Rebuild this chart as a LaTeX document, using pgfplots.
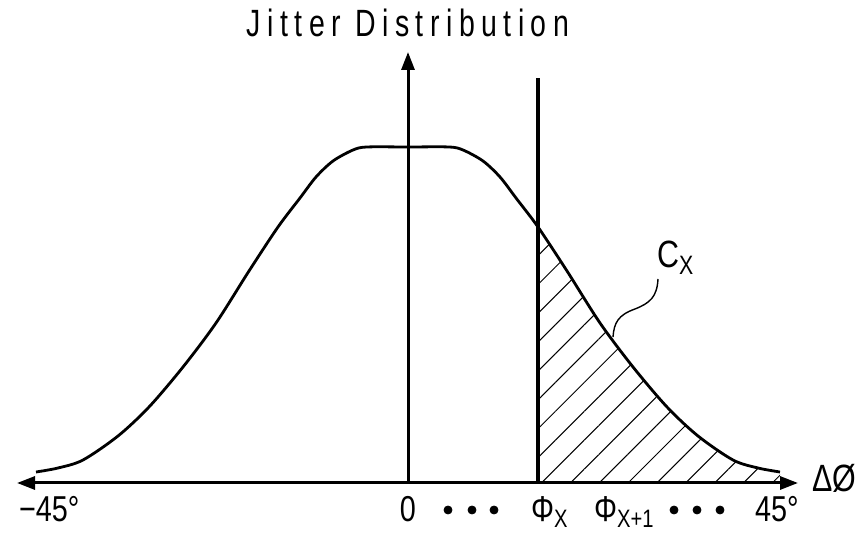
\documentclass[border=0pt]{standalone}
\usepackage{fontspec}
\setmainfont{Liberation Sans}[FakeStretch=0.8]
\newfontfamily\titlefont{Liberation Sans}[FakeStretch=0.75,LetterSpace=17]
\usepackage{pgfplots}
\pgfplotsset{compat=1.18}
\usetikzlibrary{arrows.meta,patterns.meta}

\begin{document}
\begin{tikzpicture}
\begin{axis}[
x=0.5pt, y=0.5pt,
xmin=-391, xmax=390,
ymin=0, ymax=431,
enlargelimits=false,
axis lines=middle,
xtick=\empty, ytick=\empty,
x axis line style={line width=1.5pt,{Triangle[length=9pt,width=6.5pt]}-{Triangle[length=9pt,width=6.5pt]}},
y axis line style={line width=1.5pt,-{Triangle[length=9pt,width=6.5pt]}},
clip=false,
every node/.style={inner sep=0pt, outer sep=0pt}
]
% hatched area C_X right of Phi_X
\addplot[draw=none, pattern={Lines[angle=45,distance=10.2pt,line width=0.5pt]}, smooth]
coordinates {(130,256) (159,212) (192,160) (225,116) (259,76) (290,47) (325,23) (350,15) (372,11)} \closedcycle;

% jitter distribution
\addplot[line width=1.4pt, smooth, tension=0.5] coordinates {
(-372,11) (-350,15) (-325,23) (-290,47) (-259,76) (-225,116) (-192,160)
(-159,212) (-130,256) (-108,285) (-92,306) (-75,322) (-55,333) (-41,336)
(0,336)
(41,336) (55,333) (75,322) (92,306) (108,285) (130,256) (159,212)
(192,160) (225,116) (259,76) (290,47) (325,23) (350,15) (372,11)
};

% Phi_X line
\addplot[line width=1.8pt] coordinates {(130,0) (130,405)};

% dots between labels
\addplot[only marks, mark=*, mark size=2pt] coordinates {
(40,-27) (64,-27) (86,-27) (266,-27) (289,-27) (312,-27)
};

% leader to C_X
\draw[line width=0.7pt] (axis cs:250,204) .. controls (axis cs:249,186) and (axis cs:242,180) .. (axis cs:227,174)
  .. controls (axis cs:210,168) and (axis cs:206,160) .. (axis cs:205,146);

\node[anchor=base] at (axis cs:0,446) {\titlefont\fontsize{19}{22}\selectfont Jitter Distribution};
\node[anchor=base west] at (axis cs:242,215) {\fontsize{19}{22}\selectfont C\textsubscript{X}};
\node[anchor=base west] at (axis cs:397,-9) {\fontsize{19}{22}\selectfont ΔØ};

\node[anchor=base west] at (axis cs:-396,-39) {\fontsize{18}{21}\selectfont −45°};
\node[anchor=base] at (axis cs:0,-39) {\fontsize{18}{21}\selectfont 0};
\node[anchor=base west] at (axis cs:116,-39) {\fontsize{18}{21}\selectfont Φ\textsubscript{X}};
\node[anchor=base west] at (axis cs:179,-39) {\fontsize{18}{21}\selectfont Φ\textsubscript{X+1}};
\node[anchor=base west] at (axis cs:340,-39) {\fontsize{18}{21}\selectfont 45°};

% page frame of the reference
\coordinate (frameLL) at (axis cs:-408,-51);
\coordinate (frameUR) at (axis cs:448,483);
\end{axis}
\pgfresetboundingbox
\path (frameLL) rectangle (frameUR);
\end{tikzpicture}
\end{document}
